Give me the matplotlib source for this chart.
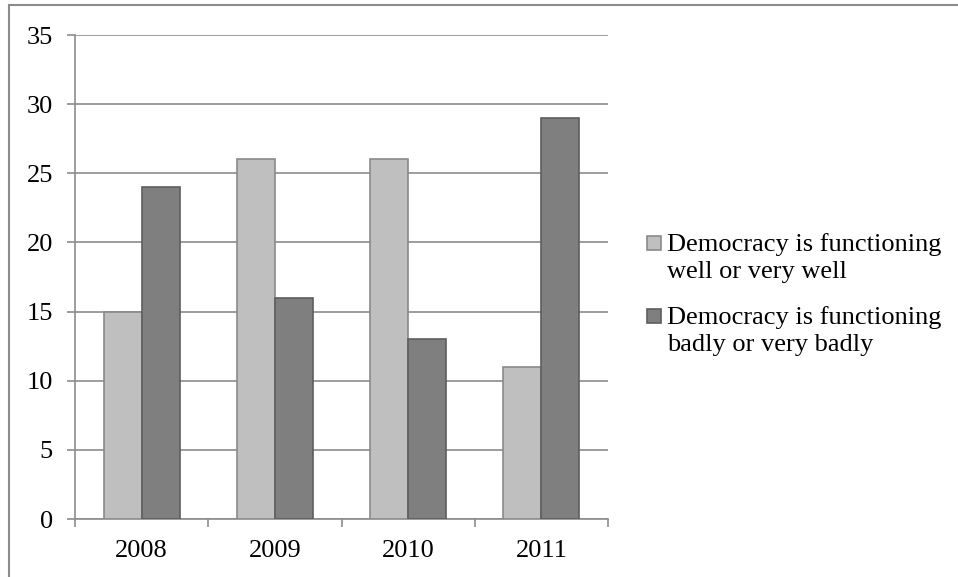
import matplotlib
matplotlib.use("Agg")
import matplotlib.pyplot as plt
from matplotlib.lines import Line2D
from matplotlib.patches import Rectangle
import numpy as np

years = ["2008", "2009", "2010", "2011"]
well = [15, 26, 26, 11]
badly = [24, 16, 13, 29]
labels = ["Democracy is functioning\nwell or very well",
          "Democracy is functioning\nbadly or very badly"]

plt.rcParams["font.family"] = ["Liberation Serif", "DejaVu Serif"]

W, H = 958, 577
FS = 19
GRID = "#8c8c8c"
fig = plt.figure(figsize=(W / 100, H / 100), dpi=100)
ax = fig.add_axes([75 / W, (H - 519) / H, (608 - 75) / W, (519 - 35) / H])

x = np.arange(len(years))
bw = 1 / 3.5
light, dark = "#bfbfbf", "#7f7f7f"
light_edge, dark_edge = "#8a8a8a", "#5e5e5e"
ax.bar(x - bw / 2, well, bw, color=light, edgecolor=light_edge, linewidth=1.2, zorder=3)
ax.bar(x + bw / 2, badly, bw, color=dark, edgecolor=dark_edge, linewidth=1.2, zorder=3)

ax.set_xlim(-0.5, len(years) - 0.5)
ax.set_ylim(0, 35)
ax.set_yticks(range(0, 36, 5))
ax.yaxis.grid(True, color=GRID, linewidth=1.2, zorder=0)
ax.set_axisbelow(True)
for s in ["top", "right"]:
    ax.spines[s].set_visible(False)
for s in ["left", "bottom"]:
    ax.spines[s].set_color(GRID)
    ax.spines[s].set_linewidth(1.2)

ax.set_xticks(x)
ax.set_xticklabels(years)
ax.set_xticks(np.arange(-0.5, len(years)), minor=True)
ax.tick_params(axis="x", which="major", length=0, pad=15, labelsize=FS)
ax.tick_params(axis="x", which="minor", length=6, color=GRID, width=1.2, direction="out")
ax.tick_params(axis="y", length=6, color=GRID, width=1.2, direction="out", pad=10, labelsize=FS)

# legend: square key beside the first line of each two-line label
to_fig = lambda px, py: (px / W, (H - py) / H)
for i, (lab, fc, ec) in enumerate(zip(labels, [light, dark], [light_edge, dark_edge])):
    top = 236 + 73 * i
    fig.add_artist(Rectangle(to_fig(647, top + 14), 14 / W, 14 / H, transform=fig.transFigure,
                             facecolor=fc, edgecolor=ec, linewidth=1.2))
    fig.text(*to_fig(667, top - 3), lab, fontsize=FS, va="top", ha="left", linespacing=1.28)

# outer frame (top and left edges)
fig.add_artist(Line2D([9 / W, 1], [(H - 5) / H, (H - 5) / H], transform=fig.transFigure,
                      color=GRID, linewidth=1.5))
fig.add_artist(Line2D([9 / W, 9 / W], [0, (H - 5) / H], transform=fig.transFigure,
                      color=GRID, linewidth=1.5))

fig.savefig("out.png", dpi=100)
